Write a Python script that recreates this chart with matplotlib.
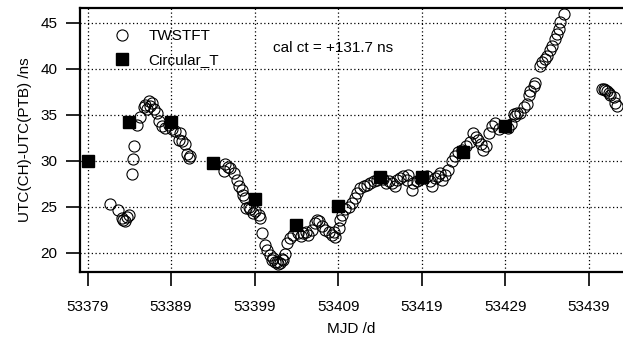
import matplotlib
matplotlib.use("Agg")
import matplotlib.pyplot as plt

plt.rcParams['font.family'] = ['Liberation Sans', 'DejaVu Sans']

# TWSTFT (MJD, ns)
tw_mjd = [53381.7, 53382.6, 53383.1, 53383.3, 53383.5, 53383.7, 53384.0,
          53384.3, 53384.5, 53384.6, 53384.9, 53385.3, 53385.7, 53385.9, 53386.1,
          53386.3, 53386.5, 53386.7, 53387.0, 53387.3, 53387.5, 53387.9, 53388.3,
          53388.7, 53389.1, 53389.5, 53389.9, 53390.1, 53390.3, 53390.7, 53390.95,
          53391.1, 53391.3,
          53395.3, 53395.5, 53395.8, 53396.1, 53396.5, 53396.9, 53397.1, 53397.5,
          53397.65, 53397.9, 53398.0, 53398.3, 53398.5, 53398.8, 53399.1, 53399.5,
          53399.7, 53399.9, 53400.3, 53400.5, 53400.85, 53401.05, 53401.25, 53401.45,
          53401.65, 53401.85, 53402.05, 53402.25, 53402.45, 53402.65, 53402.85,
          53403.25, 53403.65, 53404.2, 53404.5, 53404.85, 53405.15, 53405.45, 53405.85,
          53406.25, 53406.45, 53406.65, 53407.05, 53407.45, 53407.85, 53408.25,
          53408.45, 53408.65, 53409.05, 53409.25, 53409.45, 53409.85, 53410.25,
          53410.65, 53411.05, 53411.25, 53411.65, 53412.05, 53412.45, 53412.85,
          53413.25, 53413.6, 53414.4, 53414.7, 53415.05, 53415.45, 53415.75, 53416.05,
          53416.45, 53416.8, 53417.2, 53417.4, 53417.8, 53418.0, 53418.4, 53418.8,
          53419.2, 53419.6, 53420.0, 53420.2, 53420.6, 53421.0, 53421.2, 53421.4,
          53421.8, 53422.2, 53422.6, 53423.0, 53423.4, 53423.8, 53424.3, 53424.75,
          53425.15, 53425.45, 53425.75, 53426.1, 53426.4, 53426.7, 53427.0, 53427.4,
          53427.8, 53428.2, 53428.8, 53429.3, 53429.75, 53430.0, 53430.2, 53430.4,
          53430.8, 53431.2, 53431.6, 53431.8, 53432.0, 53432.4, 53432.6, 53433.2,
          53433.4, 53433.8, 53434.0, 53434.4, 53434.6, 53435.0, 53435.2, 53435.4,
          53435.6, 53436.0,
          53440.6, 53440.8, 53441.0, 53441.2, 53441.4, 53441.6, 53442.0, 53442.2,
          53442.4]
tw_ns = [25.3, 24.6, 23.8, 23.5, 23.4, 23.9, 24.1,
         28.6, 30.2, 31.6, 33.85, 34.7, 35.8, 36.1, 35.6,
         36.5, 36.0, 36.3, 35.6, 35.2, 34.3, 33.8, 33.6,
         33.9, 33.4, 33.2, 32.3, 33.0, 32.1, 31.8, 30.7,
         30.3, 30.5,
         28.85, 29.6, 29.3, 29.2, 28.7, 27.9, 27.2, 26.85,
         26.3, 25.9, 24.85, 25.0, 24.7, 24.3, 24.5, 24.1,
         23.8, 22.1, 20.8, 20.3, 19.75, 19.2, 19.4, 19.0,
         19.0, 18.8, 18.85, 19.3, 19.2, 19.9, 21.0,
         21.6, 21.9, 22.1, 21.8, 22.1, 22.3, 21.9, 22.5,
         23.2, 23.6, 23.4, 22.85, 22.5, 22.3, 21.9,
         22.3, 21.75, 22.65, 23.6, 24.1, 24.7, 25.0,
         25.4, 25.9, 26.5, 27.0, 27.2, 27.4, 27.6,
         27.8, 27.9, 28.0, 27.6, 27.8, 27.6, 27.2, 27.9,
         28.1, 28.3, 27.9, 28.5, 26.85, 27.6, 27.8, 28.0,
         28.1, 28.3, 27.8, 27.2, 28.1, 28.3, 28.7, 27.9,
         28.5, 29.0, 29.95, 30.5, 30.9, 31.2, 31.6, 32.0,
         33.05, 32.6, 32.3, 31.8, 31.2, 31.6, 33.05, 33.8,
         34.1, 33.5, 33.7, 33.6, 33.95, 35.05, 34.9, 35.2,
         35.2, 35.8, 36.15, 37.2, 37.6, 38.15, 38.5, 40.3,
         40.7, 41.05, 41.4, 42.0, 42.5, 43.25, 43.8, 44.3,
         45.05, 46.0,
         37.8, 37.8, 37.7, 37.6, 37.4, 37.2, 36.9, 36.3,
         35.95]

# Circular T (MJD, ns)
ct_mjd = [53379, 53384, 53389, 53394, 53399, 53404, 53409, 53414, 53419, 53424, 53429]
ct_ns = [30.0, 34.2, 34.2, 29.8, 25.8, 23.0, 25.1, 28.2, 28.2, 30.9, 33.8]

xticks = [53379, 53389, 53399, 53409, 53419, 53429, 53439]
yticks = [20, 25, 30, 35, 40, 45]

fig = plt.figure(figsize=(6.23, 3.39), dpi=100)
ax = fig.add_axes([79.6/623, 1-272/339, 1-79.6/623, (272-7.5)/339])

ax.plot(tw_mjd, tw_ns, 'o', mfc='none', mec='black', ms=8, mew=0.8,
        label='TWSTFT', zorder=3)
ax.plot(ct_mjd, ct_ns, 's', mfc='black', mec='black', ms=8, label='Circular_T', zorder=4)

ax.set_xlim(53378.05, 53443.1)
ax.set_ylim(17.9, 46.66)
ax.set_xticks(xticks)
ax.set_xticklabels([str(t) for t in xticks])
ax.set_yticks(yticks)
ax.grid(True, color='black', linestyle=(0, (1, 2)), linewidth=0.9)
ax.set_axisbelow(True)

for s in ['left', 'bottom', 'top']:
    ax.spines[s].set_linewidth(1.6)
ax.spines['right'].set_visible(False)
ax.tick_params(axis='both', direction='out', length=10, width=1.2, labelsize=11, pad=6)
ax.tick_params(axis='x', pad=10)

ax.set_xlabel('MJD /d', fontsize=11, labelpad=6)
ax.set_ylabel('UTC(CH)-UTC(PTB) /ns', fontsize=11, labelpad=6)

ax.legend(loc='upper left', bbox_to_anchor=(0.052, 0.94), frameon=False, fontsize=11,
          handlelength=1.0, handletextpad=1.25, labelspacing=0.65, borderaxespad=0)
fig.text(272.7/623, 1-48.3/339, 'cal ct = +131.7 ns', fontsize=11, va='center', ha='left')

fig.savefig('out.png', dpi=100)
